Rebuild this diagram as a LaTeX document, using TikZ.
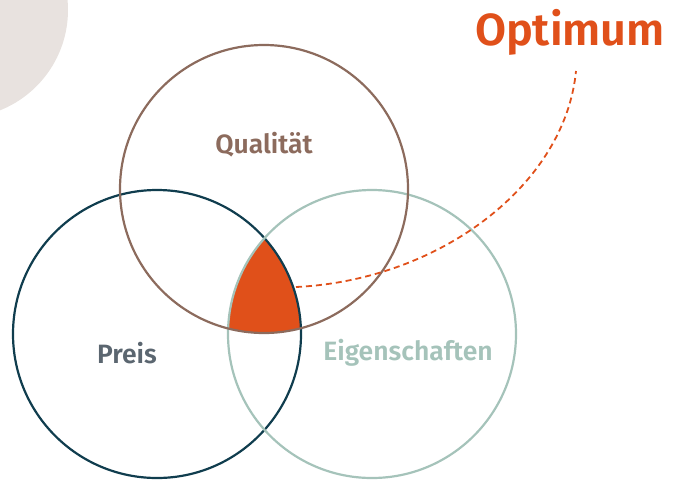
\documentclass[tikz,border=0pt]{standalone}
\usepackage{fontspec}
\setmainfont{Fira Sans}[BoldFont={Fira Sans SemiBold}]
\definecolor{qbrown}{HTML}{8C6B5D}
\definecolor{pdark}{HTML}{103D4E}
\definecolor{elight}{HTML}{A5C3BA}
\definecolor{opt}{HTML}{E0501A}
\definecolor{ptext}{HTML}{5B6670}
\definecolor{bgblob}{HTML}{E8E2DF}
\tikzset{
  ring/.style={line width=2.2pt},
  lbl/.style={font=\fontsize{26.5}{30}\selectfont\bfseries, inner sep=0pt}
}
\begin{document}
\begin{tikzpicture}[x=1pt,y=-1pt]
\useasboundingbox (0,0) rectangle (674,480);
\begin{scope}
  \clip (0,0) rectangle (674,480);
  \fill[bgblob] (-40,10) circle (108);
\end{scope}
% intersection
\begin{scope}
  \clip (264,189) circle (144);
  \clip (157,334) circle (144);
  \fill[opt] (372,334) circle (144);
\end{scope}
\draw[ring, pdark] (157,334) circle (144);
\draw[ring, elight] (372,334) circle (144);
\draw[ring, qbrown] (264,189) circle (144);
\coordinate (start) at (296,287);
\node[font=\fontsize{45}{52}\selectfont\bfseries, text=opt, inner sep=0pt] (optimum) at (570,32) {Optimum};
\coordinate (end) at (576,71);
\draw[opt, line width=1.8pt, dash pattern=on 6pt off 4pt] (start) .. controls (440,280) and (565,185) .. (end);
\node[lbl, text=qbrown] (qual) at (264,145) {Qualität};
\node[lbl, text=ptext] (preis) at (127,353) {Preis};
\node[lbl, text=elight] (eig) at (408,353) {Eigenschaften};
\end{tikzpicture}
\end{document}
